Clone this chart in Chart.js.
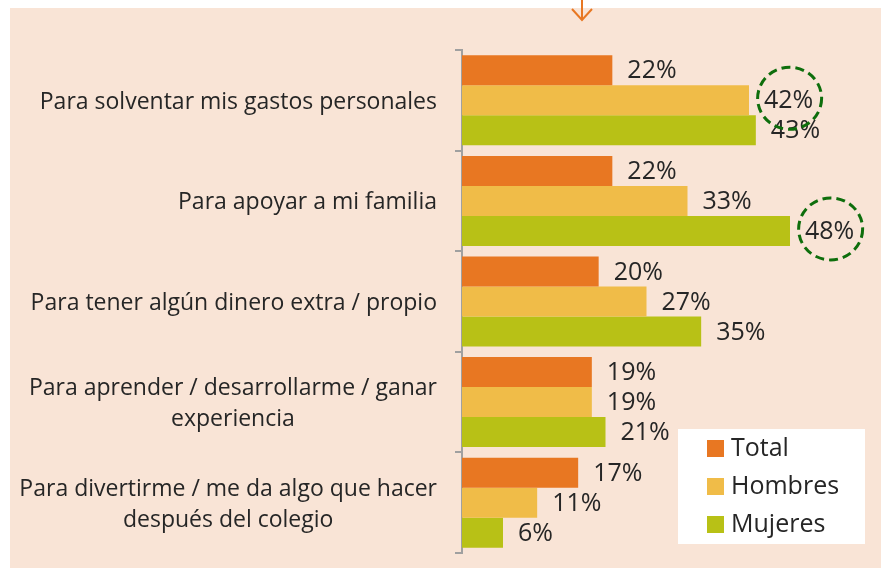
<!DOCTYPE html>
<html>
<head>
<meta charset="utf-8">
<script src="https://cdn.jsdelivr.net/npm/chart.js@4"></script>
<style>
  html, body { margin: 0; padding: 0; background: #ffffff; }
  #wrap { width: 881px; height: 568px; }
</style>
</head>
<body>
<div id="wrap"><canvas id="motivosChart" width="881" height="568"></canvas></div>
<script>
const categories = [
  ["Para solventar mis gastos personales"],
  ["Para apoyar a mi familia"],
  ["Para tener algún dinero extra / propio"],
  ["Para aprender / desarrollarme / ganar", "experiencia"],
  ["Para divertirme / me da algo que hacer", "después del colegio"]
];
const seriesNames = ["Total", "Hombres", "Mujeres"];
const totalValues = [22, 22, 20, 19, 17];
const hombresValues = [42, 33, 27, 19, 11];
const mujeresValues = [43, 48, 35, 21, 6];
// which labels get the dashed green ring: [datasetIndex, categoryIndex]
const highlighted = [[1, 0], [2, 1]];

const colors = ["#E87722", "#F0BC48", "#B8C116"];
const textColor = "#262626";
const fontFamily = "'Open Sans', sans-serif";

const backgroundPlugin = {
  id: "panel",
  beforeDraw(chart) {
    const ctx = chart.ctx;
    ctx.save();
    ctx.fillStyle = "#ffffff";
    ctx.fillRect(0, 0, chart.width, chart.height);
    ctx.fillStyle = "#F9E4D6";
    ctx.fillRect(10, 8, chart.width - 10, chart.height - 8);

    // little arrow at the top
    ctx.strokeStyle = "#E87722";
    ctx.lineWidth = 2;
    ctx.beginPath();
    ctx.moveTo(582, 0);
    ctx.lineTo(582, 20);
    ctx.moveTo(572, 9);
    ctx.lineTo(582, 20);
    ctx.lineTo(592, 9);
    ctx.stroke();
    ctx.restore();
  }
};

const labelsPlugin = {
  id: "labels",
  afterDraw(chart) {
    const ctx = chart.ctx;
    const yScale = chart.scales.y;
    ctx.save();

    // category labels
    ctx.fillStyle = textColor;
    ctx.font = "23px " + fontFamily;
    ctx.textBaseline = "middle";
    ctx.textAlign = "center";
    categories.forEach((lines, i) => {
      const yc = yScale.getPixelForValue(i) + 2;
      const w = Math.max(...lines.map(l => ctx.measureText(l).width));
      const xc = 437 - w / 2;
      const lh = 31;
      lines.forEach((line, j) => {
        ctx.fillText(line, xc, yc + (j - (lines.length - 1) / 2) * lh);
      });
    });

    // value labels
    ctx.font = "25px " + fontFamily;
    ctx.textAlign = "left";
    const labelPos = {};
    chart.data.datasets.forEach((ds, d) => {
      const meta = chart.getDatasetMeta(d);
      meta.data.forEach((bar, i) => {
        const txt = ds.data[i] + "%";
        const x = bar.x + 15;
        ctx.fillText(txt, x, bar.y + 1);
        labelPos[d + "_" + i] = { x: x + ctx.measureText(txt).width / 2, y: bar.y };
      });
    });

    // dashed rings
    ctx.strokeStyle = "#0E6E0C";
    ctx.lineWidth = 3;
    ctx.setLineDash([9, 5]);
    highlighted.forEach(([d, i]) => {
      const p = labelPos[d + "_" + i];
      ctx.beginPath();
      ctx.ellipse(p.x + 1, p.y - 2, 32, 31, 0, 0, Math.PI * 2);
      ctx.stroke();
    });
    ctx.setLineDash([]);

    // legend box
    ctx.fillStyle = "#ffffff";
    ctx.fillRect(678, 429, 187, 115);
    ctx.font = "25px " + fontFamily;
    chart.data.datasets.forEach((ds, d) => {
      const yc = 448 + d * 38;
      ctx.fillStyle = ds.backgroundColor;
      ctx.fillRect(707, yc - 8, 17, 17);
      ctx.fillStyle = textColor;
      ctx.fillText(ds.label, 731, yc + 1);
    });
    ctx.restore();
  }
};

new Chart(document.getElementById("motivosChart"), {
  type: "bar",
  data: {
    labels: categories,
    datasets: [
      { label: seriesNames[0], data: totalValues, backgroundColor: colors[0] },
      { label: seriesNames[1], data: hombresValues, backgroundColor: colors[1] },
      { label: seriesNames[2], data: mujeresValues, backgroundColor: colors[2] }
    ]
  },
  options: {
    indexAxis: "y",
    responsive: false,
    animation: false,
    layout: { padding: { left: 0, top: 50, right: 9, bottom: 15 } },
    datasets: {
      bar: { categoryPercentage: 0.895, barPercentage: 1.0 }
    },
    scales: {
      x: { display: false, min: 0, max: 60 },
      y: {
        afterFit(scale) { scale.width = 462; },
        ticks: { display: false },
        grid: {
          offset: true,
          drawOnChartArea: false,
          drawTicks: true,
          tickLength: 7,
          color: "#A0A0A0",
          lineWidth: 2
        },
        border: { color: "#A0A0A0", width: 2 }
      }
    },
    plugins: {
      legend: { display: false },
      tooltip: { enabled: false }
    }
  },
  plugins: [backgroundPlugin, labelsPlugin]
});
</script>
</body>
</html>
